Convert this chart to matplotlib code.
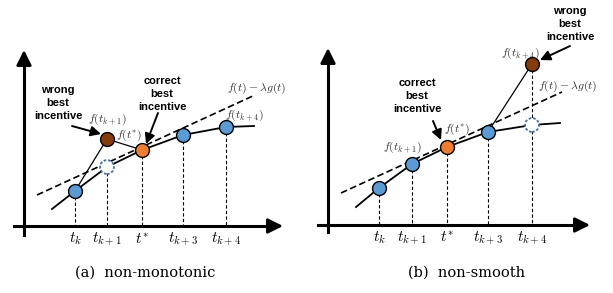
import matplotlib
matplotlib.use("Agg")
import matplotlib.pyplot as plt

plt.rcParams["mathtext.fontset"] = "cm"

# ---------------------------------------------
# DIAGRAM DATA (pixel coordinates, y down)
# ---------------------------------------------
# panel (a) non-monotonic
a_tick_x = [75, 107, 142, 183, 226]
a_point_y = [191, 167, 150, 135, 127]
a_curve_x = [52, 75, 107, 142, 183, 226, 254]
a_curve_y = [209, 191, 167, 150, 135, 127, 126]
a_wrong = (107, 139)
a_line_x = [37, 255]
a_line_y = [195, 95]

# panel (b) non-smooth
b_tick_x = [379, 412, 447, 488, 532]
b_point_y = [188, 164, 147, 132, 125]
b_curve_x = [356, 379, 412, 447, 488, 532, 560]
b_curve_y = [207, 188, 164, 147, 132, 125, 123]
b_wrong = (532, 64)
b_line_x = [341, 562]
b_line_y = [193, 92]

tick_labels = [r"$t_k$", r"$t_{k+1}$", r"$t^{*}$", r"$t_{k+3}$", r"$t_{k+4}$"]

BLUE = "#5b9bd5"
ORANGE = "#ed7d31"
BROWN = "#843c0c"

fig = plt.figure(figsize=(6.13, 2.93), dpi=100)
ax = fig.add_axes([0, 0, 1, 1])
ax.set_xlim(0, 613)
ax.set_ylim(293, 0)
ax.axis("off")


def draw_axes(x0, y_axis_bottom, y_top, y_x, x_left, x_right):
    ax.plot([x0, x0], [y_axis_bottom, y_top + 8], color="black", lw=2.2, zorder=2)
    ax.plot([x_left, x_right - 8], [y_x, y_x], color="black", lw=2.2, zorder=2)
    ax.annotate("", xy=(x0, y_top), xytext=(x0, y_top + 12),
                arrowprops=dict(arrowstyle="-|>,head_length=0.9,head_width=0.45",
                                color="black", lw=2.0, shrinkA=0, shrinkB=0))
    ax.annotate("", xy=(x_right, y_x), xytext=(x_right - 12, y_x),
                arrowprops=dict(arrowstyle="-|>,head_length=0.9,head_width=0.45",
                                color="black", lw=2.0, shrinkA=0, shrinkB=0))


def draw_panel(tx, py, cx, cy, lx, ly, y_x, hollow_idx, colors):
    ax.plot(lx, ly, color="black", lw=1.2, ls=(0, (4, 2)), zorder=3)
    ax.plot(cx, cy, color="black", lw=1.3, zorder=3)
    for i, (x, y) in enumerate(zip(tx, py)):
        ax.plot([x, x], [y, y_x], color="black", lw=0.8, ls=(0, (3, 2)), zorder=1)
        ax.text(x, y_x + 13, tick_labels[i], ha="center", va="center", fontsize=11)
        if i == hollow_idx:
            ax.scatter([x], [y], s=100, facecolor="white", edgecolor="#41719c",
                       linewidth=1.3, linestyle=(0, (1.5, 1)), zorder=7)
        else:
            ax.plot(x, y, "o", ms=10, mfc=colors[i], mec="black", mew=1.0, zorder=5)


bold = dict(fontsize=8, fontweight="bold", family="Liberation Sans",
            ha="center", va="center", linespacing=1.35)
small = dict(fontsize=8.5, ha="center", va="center", color="#333333")

# ---------------------------------------------
# PANEL (a)
# ---------------------------------------------
draw_axes(24, 235, 50, 226, 14, 283)
ax.plot([a_tick_x[0], a_wrong[0], a_tick_x[2]],
        [a_point_y[0], a_wrong[1], a_point_y[2]], color="black", lw=0.9, zorder=4)
draw_panel(a_tick_x, a_point_y, a_curve_x, a_curve_y, a_line_x, a_line_y, 226, 1,
           [BLUE, BLUE, ORANGE, BLUE, BLUE])
ax.plot(*a_wrong, "o", ms=10, mfc=BROWN, mec="black", mew=1.0, zorder=6)
ax.text(58, 103, "wrong\nbest\nincentive", **bold)
ax.text(162, 94, "correct\nbest\nincentive", **bold)
ax.annotate("", xy=(101, 134), xytext=(72, 126),
            arrowprops=dict(arrowstyle="-|>,head_length=0.6,head_width=0.3",
                            color="black", lw=1.4, shrinkA=0, shrinkB=0))
ax.annotate("", xy=(146, 144), xytext=(158, 113),
            arrowprops=dict(arrowstyle="-|>,head_length=0.6,head_width=0.3",
                            color="black", lw=1.4, shrinkA=0, shrinkB=0))
ax.text(107, 119, r"$f(t_{k+1})$", **small)
ax.text(129, 135, r"$f(t^{*})$", **small)
ax.text(244, 115, r"$f(t_{k+4})$", **small)
ax.text(257, 88, r"$f(t)-\lambda g(t)$", **small)
ax.text(145, 273, "(a)  non-monotonic", fontsize=10.5, family="DejaVu Serif",
        ha="center", va="center")

# ---------------------------------------------
# PANEL (b)
# ---------------------------------------------
draw_axes(328, 232, 48, 225, 318, 590)
ax.plot([b_tick_x[3], b_wrong[0]], [b_point_y[3], b_wrong[1]],
        color="black", lw=0.9, zorder=4)
ax.plot([b_wrong[0], b_wrong[0]], [b_wrong[1], b_point_y[4]], color="black",
        lw=0.8, ls=(0, (3, 2)), zorder=1)
draw_panel(b_tick_x, b_point_y, b_curve_x, b_curve_y, b_line_x, b_line_y, 225, 4,
           [BLUE, BLUE, ORANGE, BLUE, BLUE])
ax.plot(*b_wrong, "o", ms=10, mfc=BROWN, mec="black", mew=1.0, zorder=6)
ax.text(570, 24, "wrong\nbest\nincentive", **bold)
ax.text(417, 96, "correct\nbest\nincentive", **bold)
ax.annotate("", xy=(540, 60), xytext=(570, 46),
            arrowprops=dict(arrowstyle="-|>,head_length=0.6,head_width=0.3",
                            color="black", lw=1.4, shrinkA=0, shrinkB=0))
ax.annotate("", xy=(441, 140), xytext=(433, 121),
            arrowprops=dict(arrowstyle="-|>,head_length=0.6,head_width=0.3",
                            color="black", lw=1.4, shrinkA=0, shrinkB=0))
ax.text(520, 53, r"$f(t_{k+4})$", **small)
ax.text(568, 86, r"$f(t)-\lambda g(t)$", **small)
ax.text(457, 129, r"$f(t^{*})$", **small)
ax.text(402, 147, r"$f(t_{k+1})$", **small)
ax.text(467, 273, "(b)  non-smooth", fontsize=10.5, family="DejaVu Serif",
        ha="center", va="center")

fig.savefig("out.png", dpi=100)
